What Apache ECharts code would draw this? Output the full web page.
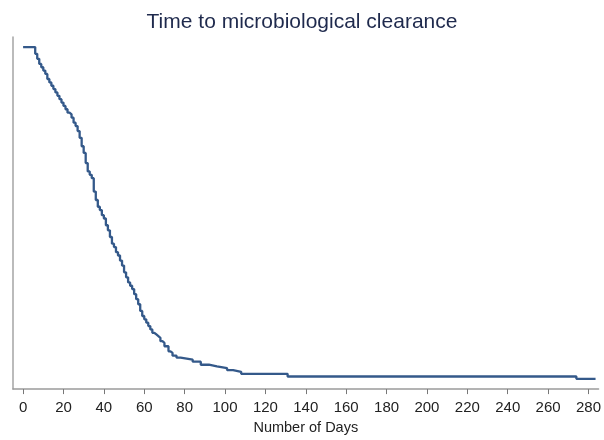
<!DOCTYPE html>
<html>
<head>
<meta charset="utf-8">
<title>Time to microbiological clearance</title>
<script src="https://cdn.jsdelivr.net/npm/echarts@6/dist/echarts.min.js"></script>
<style>
  html, body { margin: 0; padding: 0; background: #fff; }
  #chart { width: 604px; height: 440px; }
</style>
</head>
<body>
<div id="chart"></div>
<script>
// Kaplan-Meier estimate: day of each drop, survival after it
const days = [0, 6, 7, 8, 9, 10, 11, 12, 13, 14, 15, 16, 17, 18, 19, 20, 21, 22, 23, 24,
  25, 26, 27, 28, 29, 30, 31, 32, 33, 34, 35, 36, 37, 38, 39, 40, 41, 42, 43, 44,
  45, 46, 47, 48, 49, 50, 51, 52, 53, 54, 55, 56, 57, 58, 59, 60, 61, 62, 63, 64,
  65, 66, 67, 68, 69, 70, 72, 73, 74, 76, 78, 81, 84, 88, 92, 96, 101, 104, 108,
  131, 274, 283.5];
const survival = [1.0, 0.98, 0.965, 0.95, 0.94, 0.93, 0.92, 0.905, 0.895, 0.885, 0.875,
  0.865, 0.855, 0.845, 0.835, 0.825, 0.815, 0.805, 0.8, 0.79,
  0.775, 0.765, 0.75, 0.73, 0.705, 0.685, 0.655, 0.63, 0.62, 0.61, 0.57, 0.545, 0.525,
  0.515, 0.5, 0.49, 0.47, 0.455, 0.435, 0.415,
  0.405, 0.39, 0.38, 0.365, 0.35, 0.33, 0.315, 0.3, 0.29, 0.28, 0.265, 0.25, 0.235,
  0.215, 0.2, 0.19, 0.18, 0.17, 0.16, 0.15,
  0.145, 0.14, 0.135, 0.125, 0.12, 0.11, 0.095, 0.09, 0.082, 0.076, 0.073, 0.07, 0.064,
  0.055, 0.05, 0.045, 0.039, 0.034, 0.028,
  0.02, 0.013, 0.013];
const xTicks = [0, 20, 40, 60, 80, 100, 120, 140, 160, 180, 200, 220, 240, 260, 280];

const chart = echarts.init(document.getElementById('chart'));

chart.setOption({
  animation: false,
  backgroundColor: '#fff',
  title: {
    text: 'Time to microbiological clearance',
    left: 'center',
    top: 7,
    textStyle: { fontFamily: 'Liberation Sans, Arial', fontSize: 21, fontWeight: 'normal', color: '#1f2a4d' }
  },
  grid: { left: 13, right: 5, top: 37, bottom: 43 },
  xAxis: {
    type: 'value',
    min: -5,
    max: 285,
    name: 'Number of Days',
    nameLocation: 'middle',
    nameGap: 27,
    nameTextStyle: { fontFamily: 'Liberation Sans, Arial', fontSize: 14.5, color: '#222' },
    axisLine: { onZero: false, lineStyle: { color: '#9a9a9a', width: 1.5 } },
    axisTick: { show: true, length: 5, customValues: xTicks, lineStyle: { color: '#777' } },
    axisLabel: {
      customValues: xTicks,
      margin: 11,
      fontFamily: 'Liberation Sans, Arial',
      fontSize: 15,
      color: '#222'
    },
    splitLine: { show: false }
  },
  yAxis: {
    type: 'value',
    min: -0.0175,
    max: 1.03,
    axisLine: { show: true, onZero: false, lineStyle: { color: '#a5a5a5', width: 1.5 } },
    axisTick: { show: false },
    axisLabel: { show: false },
    splitLine: { show: false }
  },
  series: [{
    type: 'line',
    step: 'end',
    showSymbol: false,
    data: days.map((d, i) => [d, survival[i]]),
    lineStyle: { color: '#34598a', width: 2.3 }
  }]
});
</script>
</body>
</html>
